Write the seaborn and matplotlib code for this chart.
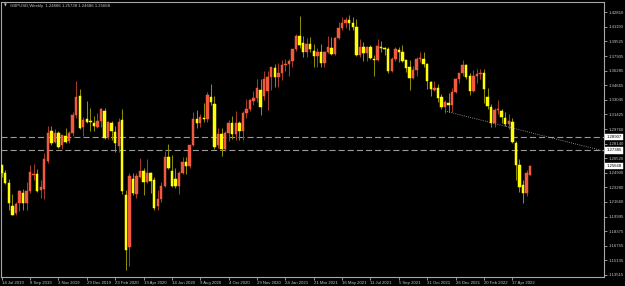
import numpy as np
import pandas as pd
import matplotlib
matplotlib.use("Agg")
import matplotlib.pyplot as plt
import matplotlib.transforms as mtransforms
import seaborn as sns

# ---------------- data (weekly GBPUSD) ----------------
opens = [1.2575, 1.2487, 1.2376, 1.2125, 1.2040, 1.2150, 1.2265, 1.2150, 1.2290, 1.2462,
         1.2475, 1.2300, 1.2310, 1.2620, 1.2955, 1.2830, 1.2933, 1.2799, 1.2900, 1.2840,
         1.2935, 1.3134, 1.3345, 1.3000, 1.3085, 1.3065, 1.3045, 1.3000, 1.3070, 1.3178,
         1.2890, 1.3045, 1.2944, 1.2788, 1.3075, 1.2242, 1.1665, 1.2420, 1.2250, 1.2440,
         1.2505, 1.2385, 1.2490, 1.2410, 1.2125, 1.2200, 1.2340, 1.2665, 1.2515, 1.2425,
         1.2340, 1.2490, 1.2615, 1.2565, 1.2795, 1.3085, 1.3050, 1.3105, 1.3085, 1.3335,
         1.3260, 1.2795, 1.2925, 1.2750, 1.2935, 1.3050, 1.2925, 1.3045, 1.2950, 1.3160,
         1.3200, 1.3295, 1.3320, 1.3415, 1.3340, 1.3400, 1.3560, 1.3655, 1.3560, 1.3600,
         1.3690, 1.3705, 1.3730, 1.3865, 1.4010, 1.3935, 1.3840, 1.3925, 1.3850, 1.3790,
         1.3830, 1.3710, 1.3840, 1.3880, 1.3815, 1.3990, 1.4100, 1.4155, 1.4190, 1.4160,
         1.4115, 1.3800, 1.3890, 1.3825, 1.3890, 1.3760, 1.3745, 1.3895, 1.3875, 1.3870,
         1.3620, 1.3760, 1.3858, 1.3830, 1.3745, 1.3668, 1.3545, 1.3635, 1.3760, 1.3755,
         1.3700, 1.3500, 1.3415, 1.3440, 1.3335, 1.3225, 1.3270, 1.3240, 1.3385, 1.3535,
         1.3600, 1.3690, 1.3570, 1.3400, 1.3570, 1.3590, 1.3600, 1.3335, 1.3225, 1.3050,
         1.3185, 1.3180, 1.3100, 1.3030, 1.3060, 1.2825, 1.2577, 1.2355, 1.2265, 1.24686]
highs = [1.2580, 1.2525, 1.2420, 1.2250, 1.2160, 1.2300, 1.2310, 1.2385, 1.2580, 1.2585,
         1.2530, 1.2410, 1.2710, 1.3015, 1.3010, 1.2975, 1.2955, 1.2915, 1.2990, 1.2960,
         1.3170, 1.3515, 1.3420, 1.3110, 1.3285, 1.3215, 1.3120, 1.3155, 1.3215, 1.3215,
         1.3070, 1.3070, 1.3010, 1.3100, 1.3200, 1.2300, 1.2490, 1.2485, 1.2485, 1.2650,
         1.2545, 1.2645, 1.2500, 1.2440, 1.2295, 1.2385, 1.2730, 1.2815, 1.2690, 1.2545,
         1.2505, 1.2670, 1.2670, 1.2805, 1.3170, 1.3185, 1.3145, 1.3265, 1.3395, 1.3480,
         1.3345, 1.2985, 1.2985, 1.2955, 1.3080, 1.3125, 1.3175, 1.3065, 1.3180, 1.3315,
         1.3310, 1.3400, 1.3540, 1.3540, 1.3625, 1.3625, 1.3670, 1.3705, 1.3710, 1.3745,
         1.3760, 1.3755, 1.3870, 1.4035, 1.4240, 1.4015, 1.3990, 1.4000, 1.3925, 1.3885,
         1.3920, 1.3845, 1.4010, 1.4005, 1.4005, 1.4165, 1.4230, 1.4220, 1.4250, 1.4220,
         1.4200, 1.3975, 1.3950, 1.3905, 1.3910, 1.3800, 1.3985, 1.3960, 1.3890, 1.3890,
         1.3785, 1.3890, 1.3890, 1.3915, 1.3750, 1.3750, 1.3675, 1.3775, 1.3835, 1.3830,
         1.3710, 1.3515, 1.3515, 1.3480, 1.3370, 1.3300, 1.3375, 1.3440, 1.3545, 1.3605,
         1.3750, 1.3700, 1.3600, 1.3630, 1.3645, 1.3645, 1.3645, 1.3440, 1.3255, 1.3215,
         1.3300, 1.3200, 1.3165, 1.3145, 1.3095, 1.2840, 1.2640, 1.2405, 1.2525, 1.25728]
lows = [1.2440, 1.2370, 1.2080, 1.2015, 1.2015, 1.2060, 1.2070, 1.2080, 1.2270, 1.2410,
        1.2280, 1.2205, 1.2195, 1.2600, 1.2805, 1.2820, 1.2770, 1.2760, 1.2825, 1.2820,
        1.2905, 1.3105, 1.2975, 1.2905, 1.3040, 1.2955, 1.2955, 1.2985, 1.2995, 1.2870,
        1.2870, 1.2850, 1.2725, 1.2725, 1.2255, 1.1407, 1.1450, 1.2240, 1.2205, 1.2430,
        1.2245, 1.2375, 1.2265, 1.2075, 1.2075, 1.2160, 1.2335, 1.2535, 1.2335, 1.2320,
        1.2250, 1.2475, 1.2480, 1.2545, 1.2785, 1.2985, 1.3005, 1.3060, 1.3060, 1.3250,
        1.2760, 1.2765, 1.2675, 1.2730, 1.2845, 1.2865, 1.2855, 1.2855, 1.2855, 1.3105,
        1.3180, 1.3240, 1.3280, 1.3135, 1.3300, 1.3190, 1.3415, 1.3450, 1.3450, 1.3520,
        1.3620, 1.3565, 1.3670, 1.3850, 1.3885, 1.3780, 1.3775, 1.3835, 1.3670, 1.3670,
        1.3670, 1.3670, 1.3825, 1.3800, 1.3800, 1.3985, 1.4075, 1.4105, 1.4080, 1.4075,
        1.3790, 1.3785, 1.3735, 1.3730, 1.3760, 1.3570, 1.3740, 1.3835, 1.3800, 1.3600,
        1.3610, 1.3730, 1.3725, 1.3725, 1.3610, 1.3410, 1.3535, 1.3570, 1.3720, 1.3670,
        1.3425, 1.3350, 1.3400, 1.3280, 1.3195, 1.3160, 1.3165, 1.3170, 1.3380, 1.3490,
        1.3570, 1.3540, 1.3360, 1.3395, 1.3490, 1.3530, 1.3270, 1.3200, 1.3000, 1.3000,
        1.3150, 1.3050, 1.3010, 1.2975, 1.2820, 1.2410, 1.2275, 1.2155, 1.2235, 1.24686]
closes = [1.2487, 1.2376, 1.2155, 1.2022, 1.2142, 1.2287, 1.2155, 1.2290, 1.2498, 1.2478,
          1.2285, 1.2330, 1.2643, 1.2933, 1.2822, 1.2935, 1.2777, 1.2910, 1.2833, 1.2935,
          1.3134, 1.3335, 1.2989, 1.3075, 1.3060, 1.3055, 1.3010, 1.3070, 1.3205, 1.2877,
          1.3055, 1.2955, 1.2822, 1.3055, 1.2290, 1.1630, 1.2455, 1.2265, 1.2450, 1.2510,
          1.2384, 1.2490, 1.2400, 1.2101, 1.2200, 1.2345, 1.2665, 1.2540, 1.2345, 1.2340,
          1.2485, 1.2610, 1.2565, 1.2800, 1.3090, 1.3050, 1.3110, 1.3090, 1.3355, 1.3280,
          1.2780, 1.2920, 1.2750, 1.2930, 1.3045, 1.2925, 1.3045, 1.2950, 1.3155, 1.3200,
          1.3300, 1.3320, 1.3435, 1.3220, 1.3530, 1.3557, 1.3665, 1.3560, 1.3600, 1.3690,
          1.3705, 1.3730, 1.3865, 1.4010, 1.3915, 1.3840, 1.3925, 1.3870, 1.3790, 1.3835,
          1.3710, 1.3840, 1.3895, 1.3815, 1.3990, 1.4100, 1.4155, 1.4190, 1.4160, 1.4115,
          1.3800, 1.3890, 1.3825, 1.3890, 1.3765, 1.3745, 1.3900, 1.3880, 1.3865, 1.3620,
          1.3760, 1.3865, 1.3830, 1.3735, 1.3655, 1.3545, 1.3635, 1.3760, 1.3770, 1.3700,
          1.3510, 1.3420, 1.3440, 1.3320, 1.3225, 1.3280, 1.3240, 1.3385, 1.3535, 1.3600,
          1.3690, 1.3555, 1.3400, 1.3570, 1.3590, 1.3600, 1.3420, 1.3235, 1.3045, 1.3190,
          1.3195, 1.3115, 1.3030, 1.3065, 1.2835, 1.2577, 1.2330, 1.2265, 1.2490, 1.25668]

date_labels = ["14 Jul 2019", "8 Sep 2019", "3 Nov 2019", "29 Dec 2019", "23 Feb 2020",
               "19 Apr 2020", "14 Jun 2020", "9 Aug 2020", "4 Oct 2020", "29 Nov 2020",
               "24 Jan 2021", "21 Mar 2021", "16 May 2021", "11 Jul 2021", "5 Sep 2021",
               "31 Oct 2021", "26 Dec 2021", "20 Feb 2022", "17 Apr 2022"]
date_step = 8
price_ticks = [1.42810, 1.41190, 1.39525, 1.37905, 1.36285, 1.34665, 1.33045, 1.31425,
               1.29760, 1.28140, 1.26520, 1.24900, 1.23280, 1.21660, 1.19995, 1.18375,
               1.16755, 1.15135, 1.13515]
level_lines = [1.28907, 1.27385]
current_price = 1.25668
trend_x = [125, 144]
trend_y = [1.3178, 1.2989]
header = "GBPUSD,Weekly  1.24686 1.25728 1.24686 1.25668"

# ---------------- style ----------------
sns.set_theme(style="dark", rc={"axes.facecolor": "black", "figure.facecolor": "black"})
plt.rcParams['font.family'] = ['Liberation Sans', 'DejaVu Sans']

df = pd.DataFrame({"bar": np.arange(len(opens)), "open": opens, "high": highs,
                   "low": lows, "close": closes})
df["up"] = df["close"] >= df["open"]

BULL, BEAR = "#F25A40", "#FFFF00"
BULL_W, BEAR_W = "#a33a28", "#8c8c00"
GRID = "#a8a8a8"
TXT = "#c8c8c8"

fig = plt.figure(figsize=(6.25, 2.86), dpi=100, facecolor="black")
ax = fig.add_axes([1.5 / 625, 9.5 / 286, 602.5 / 625, 275 / 286], facecolor="black")

# wicks
ax.vlines(df["bar"], df["low"], df["high"],
          colors=np.where(df["up"], BULL_W, BEAR_W), linewidth=0.75, zorder=2)
# bodies
body_bottom = np.minimum(df["open"], df["close"])
body_h = np.abs(df["close"] - df["open"])
cols = np.where(df["up"], BULL, BEAR)
ax.bar(df["bar"], body_h, bottom=body_bottom, width=0.68, color=cols,
       edgecolor=cols, linewidth=0.35, zorder=3)

# horizontal levels
for lv in level_lines:
    ax.axhline(lv, color="#9a9a9a", lw=0.8, ls=(0, (5.5, 2.7)), zorder=1)

x_lo, x_hi = -0.06, 169.85
y_lo, y_hi = 1.13347, 1.43980

# trend line (ray from first anchor through second)
slope = (trend_y[1] - trend_y[0]) / (trend_x[1] - trend_x[0])
ray_x = [trend_x[0], x_hi]
ray_y = [trend_y[0], trend_y[0] + slope * (x_hi - trend_x[0])]
sns.lineplot(x=ray_x, y=ray_y, ax=ax, color="#b0b0b0", lw=0.6,
             linestyle=(0, (1, 1.6)), zorder=4)

ax.set_xlim(x_lo, x_hi)
ax.set_ylim(y_lo, y_hi)

# axes
for s in ax.spines.values():
    s.set_visible(True)
    s.set_color(GRID)
    s.set_linewidth(0.8)

ax.yaxis.tick_right()
ax.set_yticks(price_ticks)
ax.set_yticklabels([f"{p:.5f}" for p in price_ticks])
ax.set_xticks(np.arange(len(date_labels)) * date_step)
ax.set_xticklabels(date_labels, ha="left")
ax.tick_params(axis="y", which="both", direction="out", length=2, width=0.6, color=GRID,
               labelsize=3.1, labelcolor=TXT, pad=1.2, left=False, right=True)
ax.tick_params(axis="x", which="both", direction="out", length=2.5, width=0.6, color=GRID,
               labelsize=3.1, labelcolor=TXT, pad=0.8, bottom=True)
for lab in ax.get_xticklabels():
    lab.set_horizontalalignment("left")
ax.set_xlabel("")
ax.set_ylabel("")
ax.grid(False)
if ax.get_legend():
    ax.get_legend().remove()

# price boxes on the right axis
trans = mtransforms.blended_transform_factory(ax.transAxes, ax.transData)
for lv in level_lines + [current_price]:
    ax.text(1.004, lv, f"{lv:.5f}", transform=trans, fontsize=3.1, color="black",
            va="center", ha="left", clip_on=False, zorder=6,
            bbox=dict(boxstyle="square,pad=0.25", facecolor="white", edgecolor="white", lw=0.3))

# header
ax.text(0.004, 0.985, "\u25bc", transform=ax.transAxes, fontsize=2.6, color=TXT,
        va="center", ha="left", family=["DejaVu Sans"])
ax.text(0.014, 0.985, header, transform=ax.transAxes, fontsize=3.1, color=TXT,
        va="center", ha="left")

fig.savefig("out.png", dpi=100, facecolor="black")
